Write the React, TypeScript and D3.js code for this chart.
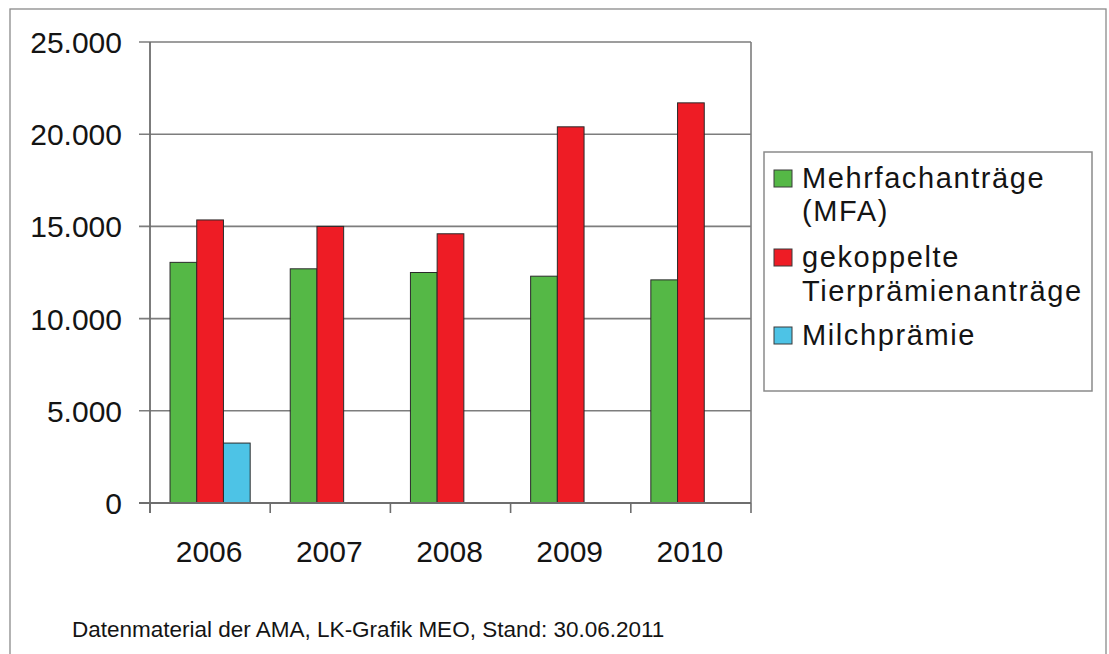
import React from "react";
import * as d3 from "d3";

// Antragszahlen je Jahr
const years = ["2006", "2007", "2008", "2009", "2010"];
const seriesNames = ["Mehrfachanträge (MFA)", "gekoppelte Tierprämienanträge", "Milchprämie"];
const mfa = [13050, 12700, 12500, 12300, 12100];
const tierpraemien = [15350, 15000, 14600, 20400, 21700];
const milchpraemie: (number | null)[] = [3250, null, null, null, null];
const yTicks = [0, 5000, 10000, 15000, 20000, 25000];
const seriesColors = ["#55b846", "#ee1c25", "#4dc3e6"];
const legendLines = [["Mehrfachanträge", "(MFA)"], ["gekoppelte", "Tierprämienanträge"], ["Milchprämie"]];
const footer = "Datenmaterial der AMA, LK-Grafik MEO, Stand: 30.06.2011";

const W = 1109;
const H = 654;
const plot = { left: 150, right: 751, top: 42, bottom: 503 };
const FONT = "'Liberation Sans', Arial, sans-serif";
const INK = "#141414";
const fmt = (v: number) => d3.format(",")(v).replace(/,/g, ".");

export default function App() {
  const x0 = d3.scaleBand<string>().domain(years).range([plot.left, plot.right]).paddingInner(0);
  const bw = x0.bandwidth();
  const barW = bw / 4.5; // gap width 150 %
  const x1 = d3
    .scaleBand<string>()
    .domain(seriesNames)
    .range([barW * 0.75, bw - barW * 0.75]);
  const y = d3.scaleLinear().domain([0, 25000]).range([plot.bottom, plot.top]);

  const allSeries = [mfa, tierpraemien, milchpraemie];
  const boundaries = [...years.map((yr) => x0(yr)!), plot.right];

  return (
    <svg width={W} height={H} style={{ display: "block", position: "absolute", left: 0, top: 0 }}>
      <rect x={0} y={0} width={W} height={H} fill="#fff" />
      {/* outer frame */}
      <rect x={10} y={9} width={1096} height={660} fill="none" stroke="#8a8a8a" strokeWidth={1.3} />

      {/* gridlines and y ticks */}
      {yTicks.map((t) => (
        <g key={t}>
          <line x1={139} x2={plot.right} y1={y(t)} y2={y(t)} stroke="#7d7d7d" strokeWidth={1.6} />
          <text
            x={122}
            y={y(t) + 11}
            textAnchor="end"
            fontFamily={FONT}
            fontSize={30}
            fill={INK}
          >
            {fmt(t)}
          </text>
        </g>
      ))}

      {/* bars */}
      {years.map((yr, i) => (
        <g key={yr} transform={`translate(${x0(yr)},0)`}>
          {allSeries.map((s, k) => {
            const v = s[i];
            if (v == null) return null;
            return (
              <rect
                key={k}
                x={x1(seriesNames[k])}
                y={y(v)}
                width={x1.bandwidth()}
                height={y(0) - y(v)}
                fill={seriesColors[k]}
                stroke="#2a2a2a"
                strokeWidth={1}
              />
            );
          })}
        </g>
      ))}

      {/* axes */}
      <line x1={plot.left} x2={plot.left} y1={plot.top} y2={plot.bottom + 10} stroke="#6e6e6e" strokeWidth={1.8} />
      <line x1={plot.right} x2={plot.right} y1={plot.top} y2={plot.bottom} stroke="#7d7d7d" strokeWidth={1.6} />
      <line x1={139} x2={plot.right} y1={y(0)} y2={y(0)} stroke="#6e6e6e" strokeWidth={1.8} />
      {boundaries.map((bx, i) => (
        <line key={i} x1={bx} x2={bx} y1={plot.bottom} y2={plot.bottom + 10} stroke="#6e6e6e" strokeWidth={1.6} />
      ))}
      {years.map((yr) => (
        <text
          key={yr}
          x={x0(yr)! + bw / 2 - 1}
          y={562}
          textAnchor="middle"
          fontFamily={FONT}
          fontSize={30}
          fill={INK}
        >
          {yr}
        </text>
      ))}

      {/* legend */}
      <rect x={764} y={152} width={328} height={239} fill="#fff" stroke="#8a8a8a" strokeWidth={1.5} />
      {legendLines.map((lines, k) => {
        const baselines = [[188, 221], [267, 301], [345]][k];
        return (
          <g key={k}>
            <rect
              x={774}
              y={baselines[0] - 18}
              width={18}
              height={17}
              fill={seriesColors[k]}
              stroke="#3a3a3a"
              strokeWidth={1}
            />
            {lines.map((ln, j) => (
              <text
                key={j}
                x={802}
                y={baselines[j]}
                fontFamily={FONT}
                fontSize={29}
                letterSpacing={1.6}
                fill={INK}
              >
                {ln}
              </text>
            ))}
          </g>
        );
      })}

      {/* source note */}
      <text x={72} y={637} fontFamily={FONT} fontSize={22.5} fill={INK}>
        {footer}
      </text>
    </svg>
  );
}
